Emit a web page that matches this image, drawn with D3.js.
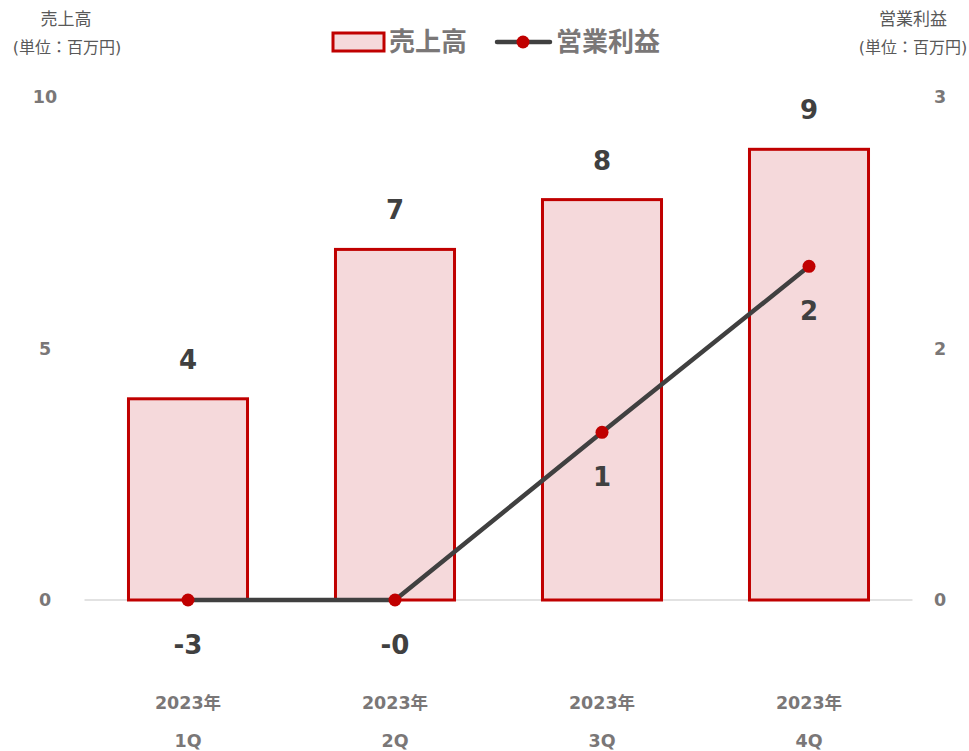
<!DOCTYPE html>
<html><head><meta charset="utf-8">
<script src="https://cdn.jsdelivr.net/npm/d3@7"></script>
<style>body{margin:0;background:#fff;} text{font-family:"DejaVu Sans","Noto Sans CJK JP",sans-serif;}</style>
</head><body><svg id="c" width="969" height="751"></svg>
<script>
const categories = [["2023年","1Q"],["2023年","2Q"],["2023年","3Q"],["2023年","4Q"]];
const sales = [4.0, 6.97, 7.96, 8.96];
const profit = [-3.0, -0.2, 1.0, 1.99];
const leftTicks = [0, 5, 10];
const rightTicks = [0, 1.5, 3];

const svg = d3.select("#c");
const x = d3.scaleBand().domain(d3.range(categories.length)).range([84.5, 912.5]).paddingInner(0.425).paddingOuter(0.2125);
const yL = d3.scaleLinear().domain([0, 10]).range([600, 97]);
const yR = d3.scaleLinear().domain([0, 3]).range([600, 97]).clamp(true);

// baseline
svg.append("line").attr("x1",84.5).attr("x2",912.5).attr("y1",yL(0)).attr("y2",yL(0)).attr("stroke","#d9d9d9").attr("stroke-width",1.5);

const tickColor = "#7a7777";
// left axis
const gl = svg.append("g").attr("transform","translate(45,0)")
  .call(d3.axisLeft(yL).tickValues(leftTicks).tickSize(0).tickFormat(d3.format("d")));
gl.select(".domain").remove();
gl.selectAll("text").attr("x",0).attr("text-anchor","middle").attr("font-size",17.5).attr("font-weight","bold").attr("fill",tickColor);

const gr = svg.append("g").attr("transform","translate(940,0)")
  .call(d3.axisRight(yR).tickValues(rightTicks).tickSize(0).tickFormat(d=>d3.format(".0f")(Math.round(d))));
gr.select(".domain").remove();
gr.selectAll("text").attr("x",0).attr("text-anchor","middle").attr("font-size",17.5).attr("font-weight","bold").attr("fill",tickColor);

// bars
svg.append("g").selectAll("rect").data(sales).join("rect")
  .attr("x",(d,i)=>x(i)).attr("width",x.bandwidth())
  .attr("y",d=>yL(d)).attr("height",d=>yL(0)-yL(d))
  .attr("fill","#f5d9db").attr("stroke","#c00000").attr("stroke-width",3);

// bar labels
svg.append("g").selectAll("text").data(sales).join("text")
  .attr("x",(d,i)=>x(i)+x.bandwidth()/2).attr("y",d=>yL(d)-30)
  .attr("text-anchor","middle").attr("font-size",26).attr("font-weight","bold").attr("fill","#404040")
  .text(d=>d3.format(".0f")(d));

// line
const cx = i => x(i)+x.bandwidth()/2;
svg.append("path").datum(profit)
  .attr("d", d3.line().x((d,i)=>cx(i)).y(d=>yR(d)))
  .attr("fill","none").attr("stroke","#404040").attr("stroke-width",4.5);
svg.append("g").selectAll("circle").data(profit).join("circle")
  .attr("cx",(d,i)=>cx(i)).attr("cy",d=>yR(d)).attr("r",6.5).attr("fill","#c00000");
svg.append("g").selectAll("text").data(profit).join("text")
  .attr("x",(d,i)=>cx(i)).attr("y",d=>yR(d)+54)
  .attr("text-anchor","middle").attr("font-size",26).attr("font-weight","bold").attr("fill","#404040")
  .text(d=> (d<0 ? "-" : "") + Math.abs(Math.round(d)));

// x labels
const xl = svg.append("g").selectAll("g").data(categories).join("g");
xl.append("text").attr("x",(d,i)=>cx(i)).attr("y",709).attr("text-anchor","middle")
  .attr("font-size",17.5).attr("font-weight","bold").attr("fill",tickColor).text(d=>d[0]);
xl.append("text").attr("x",(d,i)=>cx(i)).attr("y",747).attr("text-anchor","middle")
  .attr("font-size",17.5).attr("font-weight","bold").attr("fill",tickColor).text(d=>d[1]);

// axis titles
svg.append("text").attr("x",66).attr("y",25).attr("text-anchor","middle").attr("font-size",17).attr("fill","#595959").text("売上高");
svg.append("text").attr("x",67).attr("y",53).attr("text-anchor","middle").attr("font-size",16).attr("fill","#595959").text("(単位：百万円)");
svg.append("text").attr("x",913).attr("y",25).attr("text-anchor","middle").attr("font-size",17).attr("fill","#595959").text("営業利益");
svg.append("text").attr("x",913).attr("y",53).attr("text-anchor","middle").attr("font-size",16).attr("fill","#595959").text("(単位：百万円)");

// legend
const lg = svg.append("g");
lg.append("rect").attr("x",333).attr("y",33).attr("width",51).attr("height",18).attr("fill","#f5d9db").attr("stroke","#c00000").attr("stroke-width",3);
lg.append("text").attr("x",389).attr("y",51).attr("font-size",26).attr("font-weight","bold").attr("fill",tickColor).text("売上高");
lg.append("line").attr("x1",497).attr("x2",550).attr("y1",42).attr("y2",42).attr("stroke","#404040").attr("stroke-width",4.5).attr("stroke-linecap","round");
lg.append("circle").attr("cx",523).attr("cy",42).attr("r",6.5).attr("fill","#c00000");
lg.append("text").attr("x",556).attr("y",51).attr("font-size",26).attr("font-weight","bold").attr("fill",tickColor).text("営業利益");
</script></body></html>
